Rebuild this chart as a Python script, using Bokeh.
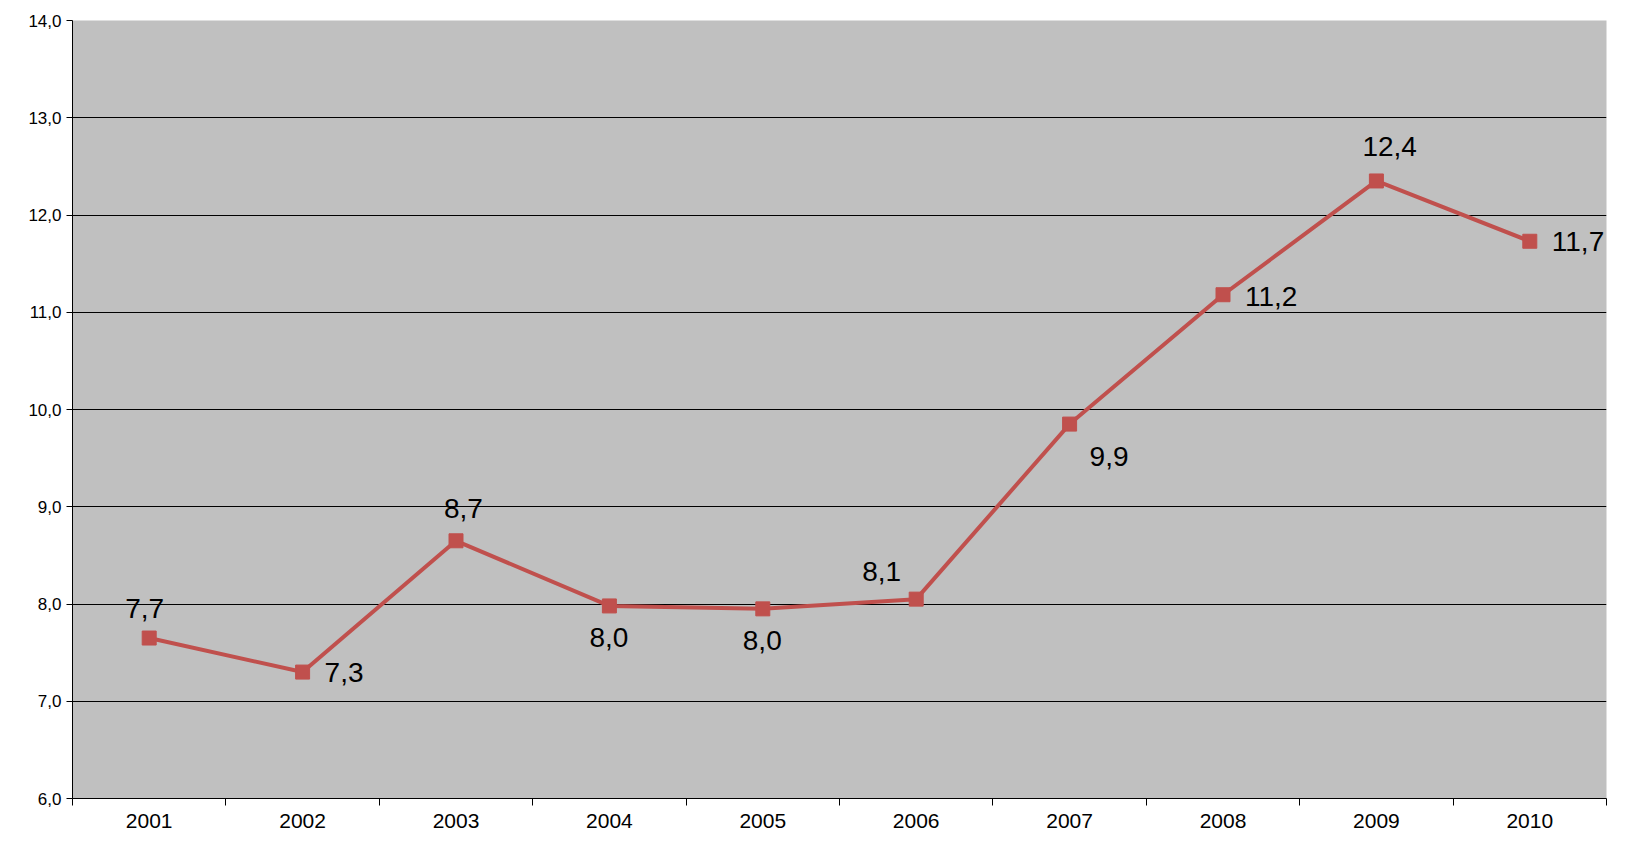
from bokeh.plotting import figure
from bokeh.models import ColumnDataSource, FixedTicker, Range1d
from bokeh.core.properties import value
from bokeh.embed import file_html
from bokeh.resources import INLINE

years = ["2001", "2002", "2003", "2004", "2005", "2006", "2007", "2008", "2009", "2010"]
values = [7.65, 7.3, 8.65, 7.98, 7.95, 8.05, 9.85, 11.18, 12.35, 11.73]
labels = ["7,7", "7,3", "8,7", "8,0", "8,0", "8,1", "9,9", "11,2", "12,4", "11,7"]
y_ticks = [6, 7, 8, 9, 10, 11, 12, 13, 14]

xs = list(range(1, len(years) + 1))

# label placement (pixel offsets), as in the original chart
dx = [-24, 22, -12, -20, -20, -54, 20, 22, -14, 22]
dy = [-30, 0, -32, 32, 32, -28, 32, 2, -34, 0]

src = ColumnDataSource(data=dict(x=xs, y=values, lab=labels, dx=dx, dy=dy))

p = figure(width=1620, height=830, output_backend="svg", toolbar_location=None,
           x_range=Range1d(0.5, 10.5), y_range=Range1d(6, 14),
           min_border_left=72, min_border_right=14, min_border_top=20, min_border_bottom=32)
p.background_fill_color = "#c0c0c0"
p.border_fill_color = "white"
p.outline_line_color = None

p.xaxis.ticker = FixedTicker(ticks=xs, minor_ticks=[i + 0.5 for i in range(0, len(years) + 1)])
p.xaxis.major_label_overrides = {x: y for x, y in zip(xs, years)}
p.xaxis.major_tick_out = 0
p.xaxis.major_tick_in = 0
p.xaxis.minor_tick_out = 7
p.xaxis.minor_tick_in = 0
p.xaxis.minor_tick_line_color = "black"
p.xaxis.major_label_standoff = 8
p.yaxis.ticker = FixedTicker(ticks=y_ticks)
p.yaxis.major_label_overrides = {v: f"{v:.1f}".replace(".", ",") for v in y_ticks}
p.yaxis.major_tick_out = 6
p.yaxis.major_tick_in = 0
p.yaxis.minor_tick_line_color = None
p.yaxis.major_label_text_font_size = "17px"
p.xaxis.major_label_text_font_size = "21px"
for ax in (p.xaxis[0], p.yaxis[0]):
    ax.axis_line_color = "black"
    ax.major_tick_line_color = "black"
    ax.major_label_text_font = "Liberation Sans"
    ax.major_label_text_color = "black"

p.xgrid.grid_line_color = None
p.ygrid.grid_line_color = "black"
p.ygrid.grid_line_alpha = 1

p.line("x", "y", source=src, line_color="#c0504d", line_width=4)
p.scatter("x", "y", source=src, marker="square", size=14, color="#c0504d")
p.text("x", "y", text="lab", source=src, x_offset="dx", y_offset="dy",
       text_font_size="28px", text_font=value("Liberation Sans"),
       text_baseline="middle", text_color="black")

open("out.html", "w").write(file_html(p, INLINE))
